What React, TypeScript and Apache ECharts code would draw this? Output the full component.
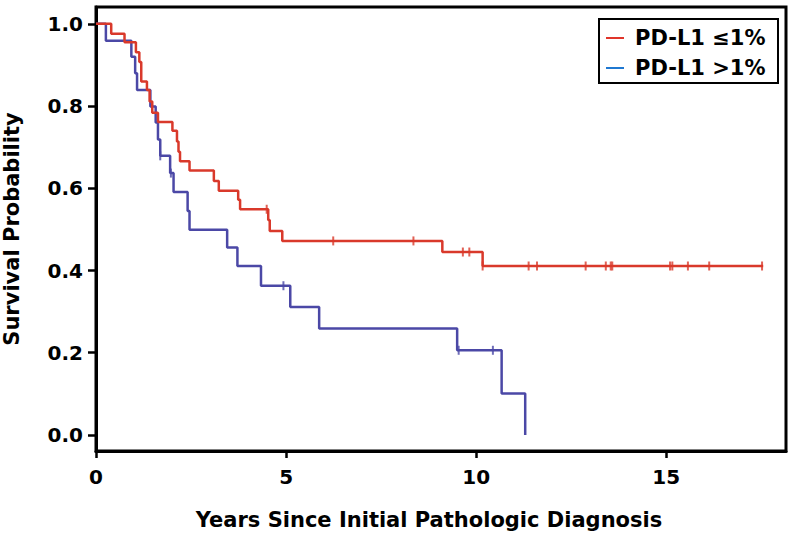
import React, { useEffect, useRef } from "react";
import * as echarts from "echarts";

// PD-L1 <=1% : event times (years) and survival after each step
const redTimes = [0, 0.40, 0.75, 1.05, 1.14, 1.19, 1.34, 1.41, 1.48, 1.63, 2.01, 2.13, 2.17, 2.21, 2.46, 3.10, 3.23, 3.74, 3.79, 4.53, 4.57, 4.90, 9.11, 10.17, 17.55];
const redSurv = [1.0, 0.976, 0.955, 0.931, 0.907, 0.860, 0.839, 0.811, 0.784, 0.761, 0.740, 0.714, 0.689, 0.666, 0.643, 0.618, 0.594, 0.572, 0.549, 0.523, 0.496, 0.472, 0.445, 0.411, 0.411];
const redCensor = [4.49, 6.24, 8.35, 9.65, 9.82, 10.17, 11.38, 11.60, 12.88, 13.41, 13.54, 13.58, 15.10, 15.16, 15.57, 16.13, 17.52];

// PD-L1 >1%
const blueTimes = [0, 0.26, 0.93, 1.03, 1.08, 1.43, 1.57, 1.63, 1.69, 1.95, 2.04, 2.41, 2.46, 3.45, 3.72, 4.34, 5.11, 5.87, 9.50, 10.67, 11.29];
const blueSurv = [1.0, 0.959, 0.920, 0.880, 0.839, 0.799, 0.760, 0.719, 0.679, 0.637, 0.591, 0.545, 0.499, 0.456, 0.411, 0.363, 0.311, 0.259, 0.206, 0.101, 0.0];
const blueCensor = [1.69, 1.97, 4.93, 9.54, 10.44];

const xTicks = [0, 5, 10, 15];
const yTicks = [0, 0.2, 0.4, 0.6, 0.8, 1.0];
const legendLabels = ["PD-L1 \u22641%", "PD-L1 >1%"];

const RED = "#d9392b";
const BLUE = "#4b48a6";
const LEG_RED = "#e0352a";
const LEG_BLUE = "#1f78d1";
const FONT = "DejaVu Sans";

function levelAt(times: number[], surv: number[], t: number) {
  let v = surv[0];
  for (let i = 0; i < times.length; i++) {
    if (times[i] <= t + 1e-9) v = surv[i];
  }
  return v;
}

export default function App() {
  const ref = useRef<HTMLDivElement>(null);
  useEffect(() => {
    if (!ref.current) return;
    const chart = echarts.init(ref.current, undefined, { renderer: "svg" });
    const redLine = redTimes.map((t, i) => [t, redSurv[i]]);
    const blueLine = blueTimes.map((t, i) => [t, blueSurv[i]]);
    const redC = redCensor.map((t) => [t, levelAt(redTimes, redSurv, t)]);
    const blueC = blueCensor.map((t) => [t, levelAt(blueTimes, blueSurv, t)]);
    chart.setOption({
      animation: false,
      backgroundColor: "#fff",
      grid: {
        left: 96,
        right: 11,
        top: 7,
        bottom: 96,
        containLabel: false,
        outerBoundsMode: "none",
        show: true,
        borderColor: "#000",
        borderWidth: 3,
        backgroundColor: "transparent",
      },
      xAxis: {
        type: "value",
        min: 0,
        max: 18.15,
        interval: 5,
        axisLine: { show: true, onZero: false, lineStyle: { color: "#000", width: 3 } },
        axisTick: { show: true, length: 7, customValues: xTicks, lineStyle: { color: "#000", width: 2.5 } },
        axisLabel: {
          customValues: xTicks,
          margin: 16,
          color: "#000",
          fontFamily: FONT,
          fontWeight: "bold",
          fontSize: 20,
        },
        splitLine: { show: false },
      },
      yAxis: {
        type: "value",
        min: -0.039,
        max: 1.041,
        axisLine: { show: true, onZero: false, lineStyle: { color: "#000", width: 3 } },
        axisTick: { show: true, length: 8, customValues: yTicks, lineStyle: { color: "#000", width: 2.5 } },
        axisLabel: {
          customValues: yTicks,
          margin: 13,
          color: "#000",
          fontFamily: FONT,
          fontWeight: "bold",
          fontSize: 20,
          formatter: (v: number) => v.toFixed(1),
        },
        splitLine: { show: false },
        name: "Survival Probability",
        nameLocation: "middle",
        nameRotate: 90,
        nameGap: 74,
        nameTextStyle: { color: "#000", fontFamily: FONT, fontWeight: "bold", fontSize: 21 },
      },
      series: [
        {
          name: legendLabels[0],
          type: "line",
          step: "end",
          data: redLine,
          showSymbol: false,
          lineStyle: { color: RED, width: 2.5 },
          itemStyle: { color: RED },
          z: 3,
        },
        {
          name: legendLabels[1],
          type: "line",
          step: "end",
          data: blueLine,
          showSymbol: false,
          lineStyle: { color: BLUE, width: 2.5 },
          itemStyle: { color: BLUE },
          z: 2,
        },
        {
          type: "scatter",
          data: redC,
          symbol: "rect",
          symbolSize: [2, 9],
          itemStyle: { color: RED },
          z: 4,
        },
        {
          type: "scatter",
          data: blueC,
          symbol: "rect",
          symbolSize: [2, 9],
          itemStyle: { color: BLUE },
          z: 4,
        },
      ],
      graphic: [
        {
          type: "text",
          x: 429,
          y: 520,
          style: {
            text: "Years Since Initial Pathologic Diagnosis",
            fill: "#000",
            font: `bold 21px "${FONT}"`,
            align: "center",
            verticalAlign: "middle",
          },
        },
        {
          type: "rect",
          shape: { x: 599, y: 19, width: 179, height: 64 },
          style: { fill: "#fff", stroke: "#000", lineWidth: 2 },
          z: 10,
        },
        {
          type: "line",
          shape: { x1: 606, y1: 38, x2: 624, y2: 38 },
          style: { stroke: LEG_RED, lineWidth: 2 },
          z: 11,
        },
        {
          type: "text",
          x: 635,
          y: 38,
          style: {
            text: legendLabels[0],
            fill: "#000",
            font: `bold 21px "${FONT}"`,
            align: "left",
            verticalAlign: "middle",
          },
          z: 11,
        },
        {
          type: "line",
          shape: { x1: 606, y1: 68, x2: 624, y2: 68 },
          style: { stroke: LEG_BLUE, lineWidth: 2 },
          z: 11,
        },
        {
          type: "text",
          x: 635,
          y: 68,
          style: {
            text: legendLabels[1],
            fill: "#000",
            font: `bold 21px "${FONT}"`,
            align: "left",
            verticalAlign: "middle",
          },
          z: 11,
        },
      ],
    });
    return () => chart.dispose();
  }, []);
  return (
    <div
      ref={ref}
      style={{ position: "fixed", left: 0, top: 0, width: 797, height: 547, background: "#fff" }}
    />
  );
}
